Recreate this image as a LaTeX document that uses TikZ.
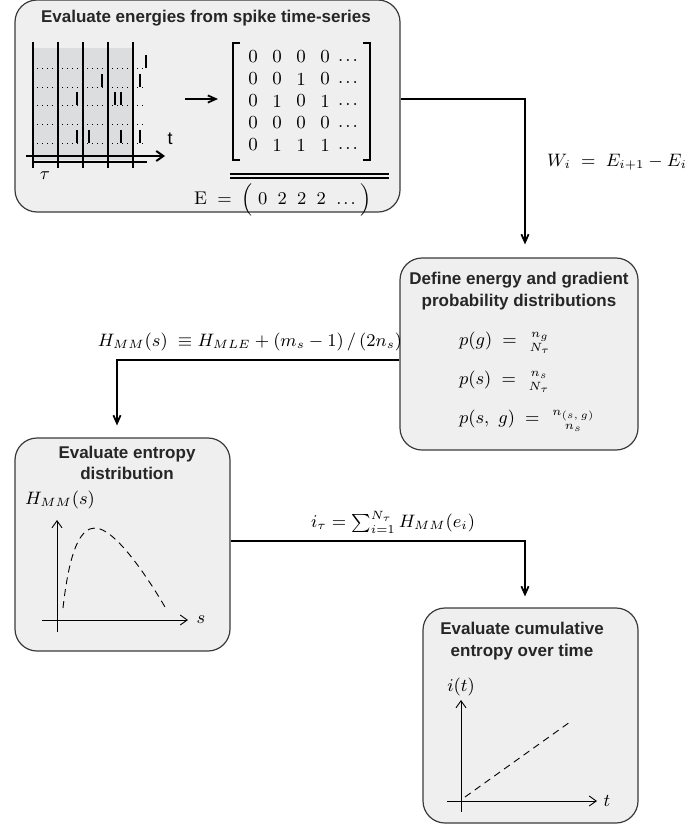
\documentclass[tikz,border=0pt]{standalone}
\usepackage{amsmath}
\usepackage{fontspec}
\newfontfamily\headfont{Liberation Sans}
\usetikzlibrary{arrows.meta}
\definecolor{boxgray}{HTML}{EFEFEF}
\definecolor{edgegray}{HTML}{3A3A3A}
\definecolor{shadegray}{HTML}{DCDDDF}

\begin{document}
\begin{tikzpicture}[x=0.5pt,y=-0.5pt,
	stage/.style={draw=edgegray, line width=0.6pt, fill=boxgray, rounded corners=11pt, inner sep=0pt},
	heading/.style={font=\headfont\bfseries\fontsize{8.5}{10.6}\selectfont, text=black!85, align=center},
	flow/.style={-{Straight Barb[length=4pt,width=3.6pt]}, line width=0.9pt},
	axis/.style={-{Straight Barb[length=3.5pt,width=5pt]}, line width=0.45pt},
	lbl/.style={font=\fontsize{8.6}{10.5}\selectfont},
	cell/.style={font=\fontsize{9.2}{11}\selectfont, inner sep=0pt}]
	
	\useasboundingbox (0,0) rectangle (693,825);
	
	% Spike time-series
	\node[stage, minimum width=192.5pt, minimum height=106pt] (series) at (207.5,106) {};
	\node[heading] (series-title) at (206,18) {Evaluate energies from spike time-series};
	\fill[shadegray] (33,48) rectangle (133,160);
	\foreach \y in {68,87,105,124,143}
		\draw[dotted, line width=0.5pt] (37,\y) -- (146,\y);
	\foreach \x in {33,58,83,108,133}
		\draw[line width=1pt] (\x,42) -- (\x,168);
	\foreach \x/\y in {146/68,102/87,140/87,77/105,115/105,121/105,77/143,89/143,121/143,140/143}
		\draw[line width=1pt] (\x,\y) -- (\x,\y-13);
	\draw[line width=1pt] (33,162) -- (147,162);
	\draw[axis, line width=1pt] (26,156) -- (165,156);
	\node[lbl, font=\headfont\fontsize{9}{11}\selectfont] (t-raster) at (170,139) {t};
	\node[lbl] (tau) at (45,176) {$\tau$};
	
	% Arrow
	\coordinate (raster) at (185,99);
	\coordinate (binned) at (218,99);
	\draw[flow] (raster) -- (binned);
	
	% Matrix
	\foreach \row [count=\i] in {{0,0,0,0},{0,0,1,0},{0,1,0,1},{0,0,0,0},{0,1,1,1}} {
		\foreach \v [count=\j] in \row
			\node[cell] (m-\i-\j) at ({229+24*\j},{35+22*\i}) {\v};
		\node[cell, anchor=base] (m-\i-dots) at (348,{39+22*\i}) {.\kern1pt.\kern1pt.};
	}
	\draw[line width=0.6pt] (240,43) -- (233,43) -- (233,160) -- (240,160);
	\draw[line width=0.6pt] (363,43) -- (370,43) -- (370,160) -- (363,160);
	\draw[line width=0.6pt] (230,174) -- (389,174);
	\draw[line width=0.6pt] (230,178) -- (389,178);
	\node[cell] (energy) at (283,200) {$\mathrm{E} \;=\; \Bigl(\;0\;\;2\;\;2\;\;2\;\;{.}\kern1pt{.}\kern1pt{.}\;\Bigr)$};
	
	% Distributions
	\node[stage, minimum width=119pt, minimum height=96pt] (dist) at (519,354) {};
	\node[heading] (dist-title) at (519,291) {Define energy and gradient\\probability distributions};
	\node[lbl, anchor=west] (pg) at (452,343) {$p(g) \;=\; \genfrac{}{}{0pt}{1}{n_g}{N_\tau}$};
	\node[lbl, anchor=west] (ps) at (452,382) {$p(s) \;=\; \genfrac{}{}{0pt}{1}{n_s}{N_\tau}$};
	\node[lbl, anchor=west] (psg) at (452,421) {$p(s,\ g) \;=\; \genfrac{}{}{0pt}{1}{n_{(s,\,g)}}{n_s}$};
	
	% Entropy distribution
	\node[stage, minimum width=107.5pt, minimum height=106.5pt] (entropy) at (122.5,544.5) {};
	\node[heading] (entropy-title) at (127,463) {Evaluate entropy\\distribution};
	\draw[axis] (57,632) -- (57,520);
	\draw[axis] (42,620) -- (188,620);
	\node[lbl] (s-axis) at (201,620) {$s$};
	\node[lbl] (h-axis) at (60,500) {$H_{MM}(s)$};
	\draw[dash pattern=on 3.5pt off 2.5pt, line width=0.45pt] (63,608) .. controls (70,545) and (82,528) .. (95,528) .. controls (115,528) and (148,578) .. (165,607);
	
	% Cumulative entropy
	\node[stage, minimum width=107.5pt, minimum height=107.5pt] (cumul) at (530.5,715.5) {};
	\node[heading] (cumul-title) at (522,641) {Evaluate cumulative\\entropy over time};
	\draw[axis] (461,812) -- (461,700);
	\draw[axis] (447,801) -- (597,801);
	\node[lbl] (t-axis) at (607,801) {$t$};
	\node[lbl] (i-axis) at (461,687) {$i(t)$};
	\draw[dash pattern=on 3.5pt off 2.5pt, line width=0.45pt] (465,797) -- (570,722);
	
	% Connectors
	\coordinate (k1) at (525,99);
	\draw[flow, shorten >=6.5pt] (series.east |- k1) -| (dist.north -| k1);
	\node[lbl, anchor=west] (w-lbl) at (540,162) {$W_i \;=\; E_{i+1} - E_i$};
	
	\coordinate (k2) at (117,360);
	\draw[flow, shorten >=6pt] (dist.west |- k2) -| (entropy.north -| k2);
	\node[lbl] (h-lbl) at (250,342) {$H_{MM}(s) \;\equiv H_{MLE} + (m_s - 1)\,/\,(2n_s)$};
	
	\coordinate (k3) at (525,541);
	\draw[flow, shorten >=5.5pt] (entropy.east |- k3) -| (cumul.north -| k3);
	\node[lbl] (i-lbl) at (393,522) {$i_\tau = \sum\nolimits_{i=1}^{N_\tau} H_{MM}(e_i)$};
	
\end{tikzpicture}
\end{document}
